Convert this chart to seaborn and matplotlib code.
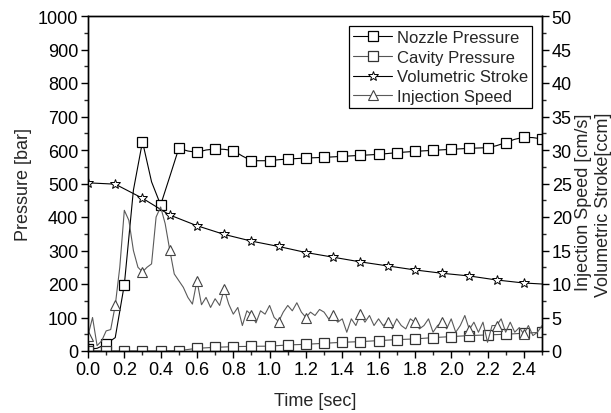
import numpy as np
import matplotlib
matplotlib.use("Agg")
import matplotlib.pyplot as plt
import seaborn as sns
from matplotlib.ticker import MultipleLocator

# ---------------- data ----------------
# Nozzle pressure [bar], sampled every 0.05 s
t_nozzle = [round(0.05 * i, 2) for i in range(51)]
nozzle = [5, 8, 21, 40, 198, 480, 625, 505, 436, 520,
          605, 597, 593, 600, 603, 602, 598, 582, 568, 568,
          568, 571, 573, 574.5, 576, 577, 578, 579.5, 581, 582.5,
          584, 585.5, 587, 589.5, 592, 594, 596, 597.5, 599, 600.5,
          602, 603.5, 605, 606, 607, 613, 622, 632, 638, 637,
          633]

# Cavity pressure [bar], every 0.1 s
t_cavity = [round(0.1 * i, 1) for i in range(26)]
cavity = [0, 0, 0, 0, 0, 1, 8, 11, 13, 14,
          14.5, 18, 20, 23, 26, 28, 31, 34, 36, 40,
          43, 46, 48, 50, 53, 56]

# Volumetric stroke [ccm], every 0.15 s (+ end point)
t_stroke = [0.0, 0.15, 0.30, 0.45, 0.60, 0.75, 0.90, 1.05, 1.20, 1.35,
            1.50, 1.65, 1.80, 1.95, 2.10, 2.25, 2.40, 2.50]
stroke = [25.1, 24.9, 22.8, 20.3, 18.7, 17.4, 16.4, 15.6, 14.7, 14.0,
          13.3, 12.7, 12.1, 11.6, 11.2, 10.6, 10.15, 10.0]

# Injection speed [cm/s], every 0.025 s
t_speed = [round(0.025 * i, 3) for i in range(101)]
speed = [2.3, 5.0, 0.8, 1.5, 3.0, 3.2, 6.8, 12.5, 21.0, 19.5,
         15.0, 12.5, 11.8, 12.5, 13.0, 20.0, 21.5, 19.0, 15.1, 11.5,
         10.5, 9.5, 8.0, 7.0, 10.5, 6.9, 8.0, 6.5, 7.8, 6.8,
         9.25, 7.0, 5.5, 6.5, 3.8, 6.0, 5.4, 4.2, 6.0, 5.5,
         6.8, 5.0, 4.4, 5.8, 6.8, 6.0, 7.2, 5.8, 5.0, 5.8,
         5.3, 6.2, 5.8, 4.8, 5.3, 4.3, 4.8, 2.8, 4.8, 3.8,
         5.5, 4.3, 5.3, 3.8, 4.8, 3.8, 4.3, 3.3, 4.8, 3.8,
         3.3, 4.8, 4.3, 3.3, 3.8, 4.8, 2.8, 3.8, 4.3, 3.3,
         4.8, 2.8, 3.8, 5.3, 3.2, 4.3, 2.8, 4.3, 1.3, 3.8,
         3.8, 4.8, 2.8, 4.3, 2.8, 3.5, 2.5, 3.8, 2.3, 2.8,
         3.8]

labels = ["Nozzle Pressure", "Cavity Pressure", "Volumetric Stroke", "Injection Speed"]
x_ticks = [0.0, 0.2, 0.4, 0.6, 0.8, 1.0, 1.2, 1.4, 1.6, 1.8, 2.0, 2.2, 2.4]

# ---------------- style ----------------
sns.set_style("ticks")
plt.rcParams["font.family"] = ["Liberation Sans", "DejaVu Sans"]
plt.rcParams["font.size"] = 13
plt.rcParams["axes.linewidth"] = 1.0

FS = 13

fig = plt.figure(figsize=(6.11, 4.14), dpi=100)
ax = fig.add_axes([88 / 611, 62 / 414, 454 / 611, 335 / 414])
ax2 = ax.twinx()

sq = dict(marker="s", markersize=6.5, markerfacecolor="white", markeredgewidth=0.9)

sns.lineplot(x=t_nozzle, y=nozzle, ax=ax, color="black", linewidth=0.8,
             markeredgecolor="black", markevery=2, label=labels[0], legend=False, **sq)
sns.lineplot(x=t_cavity, y=cavity, ax=ax, color="#555555", linewidth=0.8,
             markeredgecolor="#333333", label=labels[1], legend=False, **sq)
sns.lineplot(x=t_stroke, y=stroke, ax=ax2, color="black", linewidth=0.8,
             marker="*", markersize=7.5, markerfacecolor="white",
             markeredgecolor="black", markeredgewidth=0.7,
             markevery=slice(0, 17), label=labels[2], legend=False)
sns.lineplot(x=t_speed, y=speed, ax=ax2, color="#5a5a5a", linewidth=0.8,
             marker="^", markersize=7.5, markerfacecolor="white",
             markeredgecolor="#444444", markeredgewidth=0.8,
             markevery=6, label=labels[3], legend=False)

ax.set_xlim(0, 2.5)
ax.set_ylim(0, 1000)
ax2.set_ylim(0, 50)

ax.set_xticks(x_ticks)
ax.set_xticklabels([f"{v:.1f}" for v in x_ticks])
ax.xaxis.set_minor_locator(MultipleLocator(0.1))
ax.yaxis.set_major_locator(MultipleLocator(100))
ax.yaxis.set_minor_locator(MultipleLocator(50))
ax2.yaxis.set_major_locator(MultipleLocator(5))
ax2.yaxis.set_minor_locator(MultipleLocator(2.5))

for a in (ax, ax2):
    a.tick_params(which="major", direction="out", length=5, width=1.0,
                  labelsize=FS, colors="black", pad=2)
    a.tick_params(which="minor", direction="out", length=3, width=1.0)
    for s in a.spines.values():
        s.set_visible(True)
        s.set_color("black")
        s.set_linewidth(1.0)
ax.tick_params(top=False, right=False, which="both")
ax2.tick_params(left=False, top=False, which="both")

ax.set_xlabel("Time [sec]", fontsize=FS, labelpad=10)
ax.set_ylabel("Pressure [bar]", fontsize=FS, labelpad=4)
ax2.set_ylabel("")

fig.text(583 / 611, 1 - 202 / 414, "Injection Speed [cm/s]", rotation=90,
         ha="center", va="center", fontsize=FS)
fig.text(603 / 611, 1 - 205 / 414, "Volumetric Stroke[ccm]", rotation=90,
         ha="center", va="center", fontsize=FS)

h1, l1 = ax.get_legend_handles_labels()
h2, l2 = ax2.get_legend_handles_labels()
leg = ax2.legend(h1 + h2, l1 + l2, loc="upper right", fontsize=12,
                 frameon=True, fancybox=False, framealpha=1, edgecolor="black",
                 borderpad=0.25, labelspacing=0.28, handlelength=2.3,
                 handletextpad=0.3, borderaxespad=0.6)
leg.get_frame().set_linewidth(0.9)

fig.savefig("out.png", dpi=100)
